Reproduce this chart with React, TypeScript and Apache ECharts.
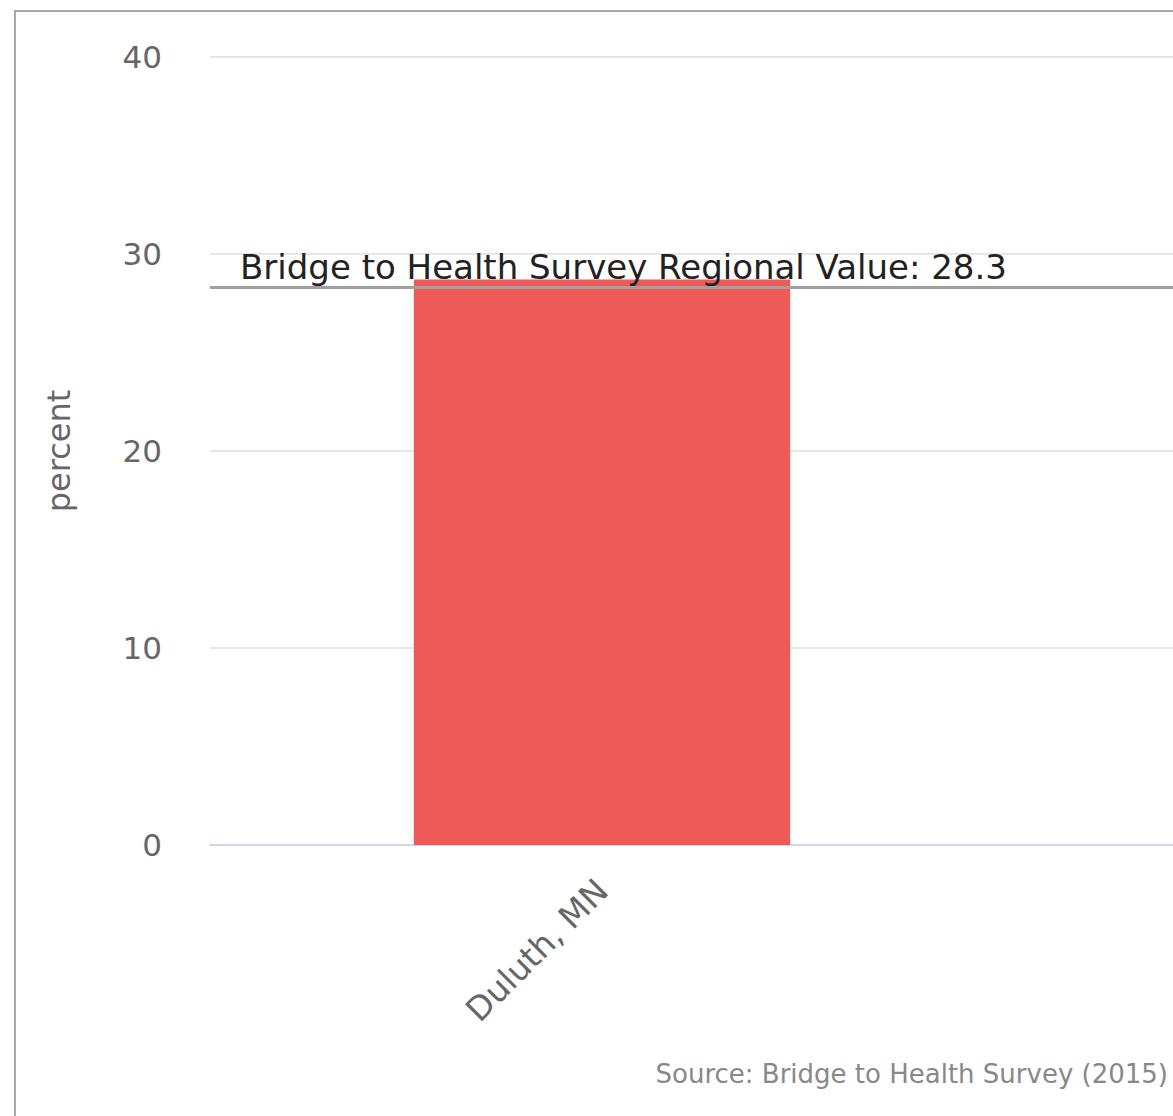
import React, { useEffect, useRef } from "react";
import * as echarts from "echarts";

const categories = ["Duluth, MN"];
const values = [28.7];
const regionalValue = 28.3;
const regionalLabel = "Bridge to Health Survey Regional Value";
const yTicks = { min: 0, max: 40, interval: 10 };
const yAxisName = "percent";
const sourceText = "Source: Bridge to Health Survey (2015)";

const FONT = "'DejaVu Sans', 'Noto Sans', sans-serif";

export default function App() {
  const ref = useRef<HTMLDivElement>(null);
  useEffect(() => {
    if (!ref.current) return;
    const chart = echarts.init(ref.current, undefined, { renderer: "svg" });
    chart.setOption({
      animation: false,
      textStyle: { fontFamily: FONT },
      grid: [
        { left: 210, right: 0, top: 57, bottom: 271 },
        { left: 210, right: 179, top: 57, bottom: 271 },
      ],
      xAxis: [
        {
          type: "category",
          gridIndex: 0,
          data: [""],
          axisLine: { show: true, lineStyle: { color: "#ccd6eb", width: 2 } },
          axisTick: { show: false },
          axisLabel: { show: false },
          splitLine: { show: false },
        },
        {
          type: "category",
          gridIndex: 1,
          data: categories,
          axisLine: { show: false },
          axisTick: { show: false },
          axisLabel: {
            rotate: 45,
            margin: 40,
            color: "#666666",
            fontSize: 33,
            fontFamily: FONT,
          },
        },
      ],
      yAxis: [
        {
          type: "value",
          gridIndex: 0,
          min: yTicks.min,
          max: yTicks.max,
          interval: yTicks.interval,
          name: yAxisName,
          nameLocation: "middle",
          nameGap: 135,
          nameTextStyle: { color: "#666666", fontSize: 32, fontFamily: FONT },
          axisLine: { show: false },
          axisTick: { show: false },
          axisLabel: { margin: 48, color: "#666666", fontSize: 31, fontFamily: FONT },
          splitLine: { show: true, lineStyle: { color: "#e6e6e6", width: 2 } },
        },
        {
          type: "value",
          gridIndex: 1,
          min: yTicks.min,
          max: yTicks.max,
          interval: yTicks.interval,
          show: false,
          splitLine: { show: false },
        },
      ],
      series: [
        {
          type: "bar",
          xAxisIndex: 1,
          yAxisIndex: 1,
          data: values,
          barWidth: "48%",
          itemStyle: { color: "#ee5a57" },
          z: 2,
        },
        {
          type: "line",
          xAxisIndex: 0,
          yAxisIndex: 0,
          data: [null],
          z: 5,
          markLine: {
            silent: true,
            symbol: "none",
            lineStyle: { color: "#a0a0a0", width: 3, type: "solid" },
            label: {
              show: true,
              position: "insideStartTop",
              distance: [30, 3],
              formatter: () => `${regionalLabel}: ${regionalValue}`,
              color: "#222222",
              fontSize: 34,
              fontFamily: FONT,
            },
            data: [{ yAxis: regionalValue }],
          },
        },
      ],
      graphic: [
        {
          type: "text",
          right: 5,
          bottom: 29,
          style: {
            text: sourceText,
            fill: "#888888",
            fontSize: 26,
            fontFamily: FONT,
          },
        },
      ],
    });
    return () => chart.dispose();
  }, []);

  return (
    <div
      style={{
        position: "fixed",
        left: 0,
        top: 0,
        width: 1173,
        height: 1116,
        background: "#ffffff",
        overflow: "hidden",
      }}
    >
      <div
        style={{
          position: "absolute",
          left: 14,
          top: 10,
          width: 1300,
          height: 1200,
          borderLeft: "2px solid #a8a8a8",
          borderTop: "2px solid #a8a8a8",
          boxSizing: "border-box",
        }}
      />
      <div
        ref={ref}
        style={{ position: "absolute", left: 0, top: 0, width: 1173, height: 1116 }}
      />
    </div>
  );
}
